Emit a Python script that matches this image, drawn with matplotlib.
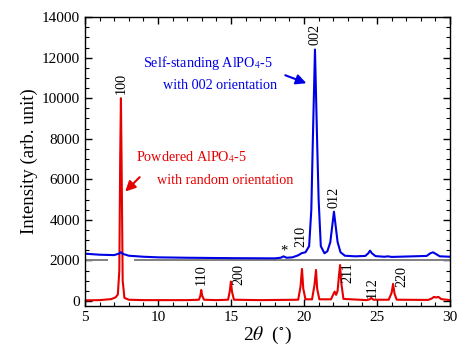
import matplotlib
matplotlib.use('Agg')
import matplotlib.pyplot as plt
from matplotlib.ticker import MultipleLocator

plt.rcParams['font.family'] = ['Liberation Serif', 'DejaVu Serif']
plt.rcParams['mathtext.fontset'] = 'stix'

# Pó (vermelho)
red_x = [5.0, 6.0, 6.8, 7.1, 7.25, 7.35, 7.41, 7.46, 7.51, 7.58, 7.7, 8.0, 9.0,
         12.0, 12.8, 12.9, 12.96, 13.03, 13.15, 14.0, 14.8, 14.92, 14.99, 15.07, 15.2,
         17.0, 19.6, 19.76, 19.86, 19.95, 20.1, 20.55, 20.72, 20.82, 20.9, 21.05,
         21.85, 22.02, 22.1, 22.2, 22.3, 22.4, 22.47, 22.55, 22.7, 24.3, 24.5, 24.6,
         24.75, 25.8, 26.0, 26.1, 26.2, 26.35, 28.5, 28.75, 28.9, 29.05, 29.2, 29.4, 30.0]
red_y = [30, 40, 90, 180, 320, 1500, 7000, 10000, 6500, 1000, 150, 60, 40,
         40, 60, 250, 540, 250, 60, 40, 60, 500, 950, 450, 60,
         40, 60, 700, 1580, 600, 80, 80, 800, 1530, 600, 80,
         80, 350, 460, 300, 500, 1300, 1770, 900, 100, 40, 80, 150,
         60, 60, 400, 840, 350, 60, 50, 120, 200, 170, 200, 90, 40]

# Filme auto-suportado (azul)
blue_x = [5.0, 6.0, 7.0, 7.3, 7.45, 7.6, 8.0, 9.0, 10.0, 12.0, 15.0, 18.0, 18.4,
          18.6, 18.8, 19.2, 19.6, 19.85, 20.1, 20.35, 20.5, 20.6, 20.75, 20.9, 21.0,
          21.15, 21.4, 21.6, 21.8, 21.95, 22.05, 22.15, 22.3, 22.5, 22.8, 23.5,
          24.2, 24.4, 24.52, 24.65, 24.9, 25.5, 25.75, 26.0, 28.4, 28.65, 28.84,
          29.0, 29.3, 30.0]
blue_y = [2330, 2280, 2260, 2330, 2400, 2320, 2230, 2180, 2150, 2130, 2110, 2100, 2130,
          2200, 2130, 2150, 2250, 2360, 2400, 2700, 4500, 7800, 12400, 7800, 5000,
          2700, 2350, 2450, 2900, 3800, 4400, 3800, 2900, 2400, 2230, 2200,
          2220, 2350, 2480, 2350, 2210, 2180, 2200, 2170, 2220, 2350, 2400,
          2330, 2200, 2180]

# Linha base de referência (cinza) em 2000
gray_segments = [(5.0, 6.48), (8.45, 30.0)]
gray_level = 2000

# Índices (h k l) e posições dos rótulos
labels_red = [('100', 7.5, 10200), ('110', 12.99, 790), ('200', 15.55, 790),
              ('211', 23.0, 890), ('112', 24.64, 150), ('220', 26.7, 700)]
labels_blue = [('002', 20.75, 12600), ('012', 22.05, 4580), ('210', 19.8, 2680)]

RED = '#e60000'
BLUE = '#0000e6'

fig = plt.figure(figsize=(4.58, 3.46), dpi=100)
ax = fig.add_axes([0.1856, 0.1156, 0.797, 0.835])

for x0, x1 in gray_segments:
    ax.plot([x0, x1], [gray_level, gray_level], color='#7f7f7f', lw=1.4)
ax.plot(red_x, red_y, color=RED, lw=1.5)
ax.plot(blue_x, blue_y, color=BLUE, lw=1.5)

ax.set_xlim(5, 30)
ax.set_ylim(-250, 14000)
ax.xaxis.set_major_locator(MultipleLocator(5))
ax.xaxis.set_minor_locator(MultipleLocator(1))
ax.yaxis.set_major_locator(MultipleLocator(2000))
ax.yaxis.set_minor_locator(MultipleLocator(500))
ax.tick_params(which='both', direction='in', top=True, right=True, labelsize=11)
ax.tick_params(which='major', length=5, width=1)
ax.tick_params(which='minor', length=3, width=0.8)
for s in ax.spines.values():
    s.set_linewidth(1.0)

ax.set_ylabel('Intensity (arb. unit)', fontsize=13.5, labelpad=3)
ax.set_xlabel(r'2$\theta$  ($^{\circ}$)', fontsize=14, labelpad=1)

for txt, x, y in labels_red + labels_blue:
    ax.text(x, y, txt, rotation=90, ha='center', va='bottom', fontsize=10.2)
ax.text(18.6, 2450, '*', ha='center', va='center', fontsize=10.5)

ax.text(8.95, 11720, r'Self-standing AlPO$_4$-5', color=BLUE, fontsize=10.2,
        ha='left', va='center')
ax.text(10.34, 10640, 'with 002 orientation', color=BLUE, fontsize=10.2,
        ha='left', va='center')
ax.annotate('', xy=(20.34, 10690), xytext=(18.54, 11180),
            arrowprops=dict(arrowstyle='-|>', color=BLUE, lw=1.5, mutation_scale=15))

ax.text(8.49, 7090, r'Powdered AlPO$_4$-5', color=RED, fontsize=10.2,
        ha='left', va='center')
ax.text(9.91, 5960, 'with random orientation', color=RED, fontsize=10.2,
        ha='left', va='center')
ax.annotate('', xy=(7.62, 5300), xytext=(8.88, 6200),
            arrowprops=dict(arrowstyle='-|>', color=RED, lw=1.5, mutation_scale=15))

fig.savefig('out.png', dpi=100)
